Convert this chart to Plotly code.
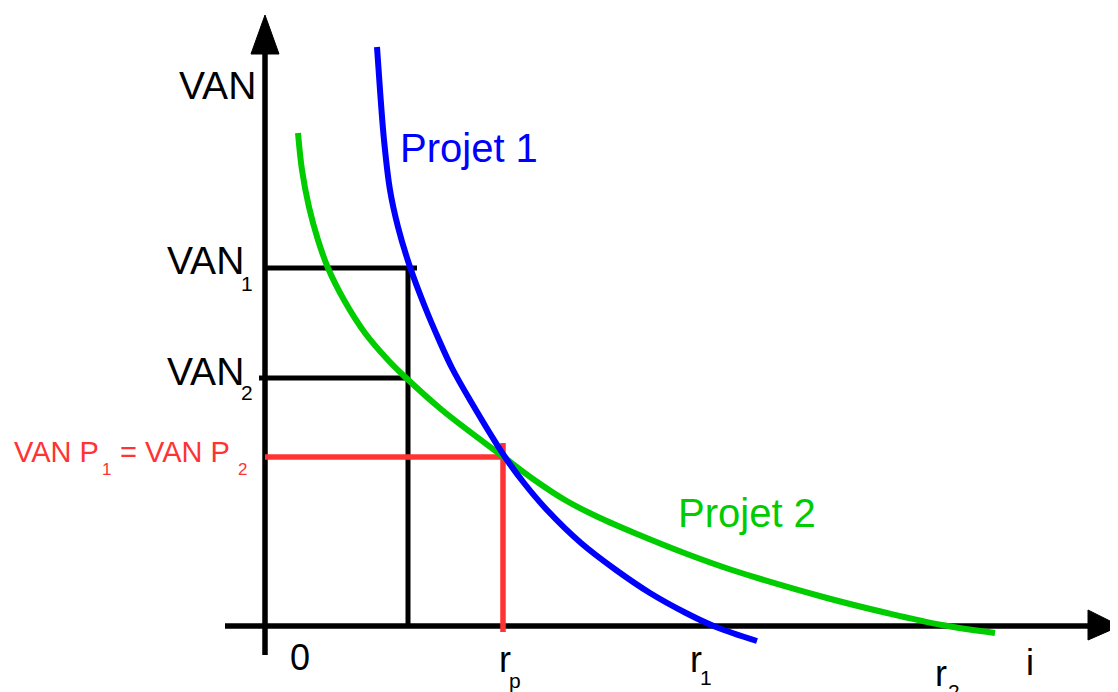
import plotly.graph_objects as go

# Courbes VAN en fonction du taux i (unités : px depuis l'origine du schéma)
projet1_i = [112, 115, 119, 125, 133, 145, 160, 174, 187, 205, 240, 259, 282,
             316, 351, 385, 421, 451, 492]
projet1_van = [579, 536, 486, 436, 399, 359, 319, 286, 258, 226, 169, 143, 116,
               83, 56, 33, 13, -1, -15]

projet2_i = [33, 37, 44, 53, 63, 79, 100, 123, 138, 177, 240, 268, 300, 333,
             372, 422, 467, 562, 622, 677, 730]
projet2_van = [493, 456, 419, 386, 358, 326, 293, 266, 251, 216, 168, 147, 126,
               109, 92, 72, 56, 28, 13, 1, -7]

van1 = 358
van2 = 248
i_choisi = 143
van_egal = 169
r_p = 238

# Axes et flèches
axe_v_x = [0, 0]
axe_v_y = [-29, 575]
axe_h_x = [-40, 825]
axe_h_y = [0, 0]
fleche_v_x = [-14, 0, 14, -14]
fleche_v_y = [572, 611, 572, 572]
fleche_h_x = [823, 855, 823, 823]
fleche_h_y = [16, 0, -14, 16]

NOIR = "#000000"
BLEU = "#0000ff"
VERT = "#00cc00"
ROUGE = "#ff3333"
POLICE = "Liberation Sans, Arial, sans-serif"

fig = go.Figure()


def ligne(x, y, couleur, largeur=5):
    fig.add_trace(go.Scatter(x=x, y=y, mode="lines", hoverinfo="skip",
                             line=dict(color=couleur, width=largeur)))


# axes
ligne(axe_v_x, axe_v_y, NOIR, 5.5)
ligne(axe_h_x, axe_h_y, NOIR, 5.5)
for fx, fy in [(fleche_v_x, fleche_v_y), (fleche_h_x, fleche_h_y)]:
    fig.add_trace(go.Scatter(x=fx, y=fy, mode="lines", fill="toself",
                             fillcolor=NOIR, line=dict(color=NOIR, width=1),
                             hoverinfo="skip"))

# repères noirs
ligne([0, 152], [van1, van1], NOIR, 5)
ligne([-6, i_choisi], [van2, van2], NOIR, 5)
ligne([i_choisi, i_choisi], [0, van1], NOIR, 5)

# repères rouges
ligne([0, r_p + 2], [van_egal, van_egal], ROUGE, 5.5)
ligne([r_p, r_p], [-6, 183], ROUGE, 5.5)

# courbes
fig.add_trace(go.Scatter(x=projet2_i, y=projet2_van, mode="lines",
                         line=dict(color=VERT, width=6, shape="spline", smoothing=1),
                         hoverinfo="skip"))
fig.add_trace(go.Scatter(x=projet1_i, y=projet1_van, mode="lines",
                         line=dict(color=BLEU, width=6, shape="spline", smoothing=1),
                         hoverinfo="skip"))


def texte(x, y, t, taille, couleur=NOIR, police=POLICE):
    fig.add_annotation(x=x, y=y, text=t, showarrow=False, xref="x", yref="y",
                       font=dict(size=taille, color=couleur, family=police),
                       xanchor="center", yanchor="middle")


texte(-48, 541, "VAN", 39)
texte(-60, 366, "VAN", 39)
texte(-18, 343, "1", 21)
texte(-60, 255, "VAN", 39)
texte(-18, 234, "2", 21)

texte(-209, 174, "VAN P", 29, ROUGE)
texte(-159, 157, "1", 17, ROUGE)
texte(-90, 174, "= VAN P", 29, ROUGE)
texte(-23, 157, "2", 17, ROUGE)

texte(204, 478, "Projet 1", 40, BLEU)
texte(482, 113, "Projet 2", 40, VERT)

texte(35, -31, "0", 36)
texte(240, -33, "r", 36)
texte(250, -54, "p", 21)
texte(431, -33, "r", 36)
texte(441, -51, "1", 21)
texte(676, -47, "r", 36)
texte(689, -65, "2", 21)
texte(765, -36, "i", 36)

# la page ajoute une marge de 8 px : les plages en tiennent compte
fig.update_layout(
    width=1118,
    height=692,
    margin=dict(l=0, r=0, t=0, b=0),
    paper_bgcolor="white",
    plot_bgcolor="white",
    showlegend=False,
    xaxis=dict(range=[-257, 861], visible=False, fixedrange=True),
    yaxis=dict(range=[-74, 618], visible=False, fixedrange=True),
)

fig.write_html("out.html")
